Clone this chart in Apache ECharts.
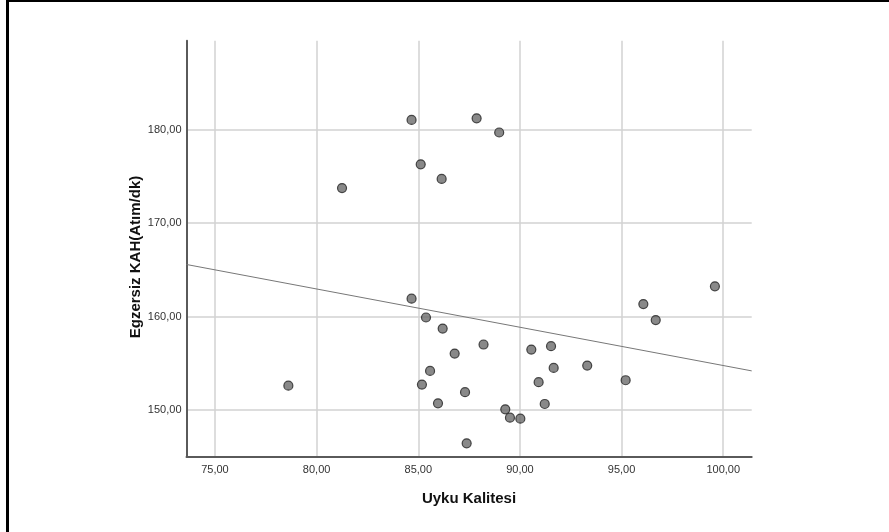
<!DOCTYPE html>
<html>
<head>
<meta charset="utf-8">
<script src="https://cdn.jsdelivr.net/npm/echarts@6/dist/echarts.min.js"></script>
<style>
html,body{margin:0;padding:0;background:#fff;}
#chart{width:889px;height:532px;}
</style>
</head>
<body>
<div id="chart"></div>
<script>
// Uyku Kalitesi (x) vs Egzersiz KAH (y)
const sleepQuality = [84.67, 87.87, 88.98, 85.12, 86.15, 81.25, 84.67,
  78.61, 85.38, 86.20, 88.21, 86.79, 90.56, 91.53, 91.66, 85.58, 85.18,
  90.92, 87.30, 85.97, 91.22, 89.28, 89.51, 90.02, 87.38,
  99.59, 96.07, 96.68, 95.20, 93.31];
const exerciseHR = [181.03, 181.20, 179.68, 176.28, 174.71, 173.74, 161.90,
  152.60, 159.89, 158.71, 157.00, 156.03, 156.46, 156.82, 154.50, 154.18, 152.71,
  152.97, 151.90, 150.71, 150.64, 150.07, 149.17, 149.07, 146.43,
  163.22, 161.33, 159.61, 153.18, 154.75];
// fit line end points
const fitX = [73.6, 101.4];
const fitY = [165.56, 154.18];
const xTicks = [75, 80, 85, 90, 95, 100];
const yTicks = [150, 160, 170, 180];

const points = sleepQuality.map((v, i) => [v, exerciseHR[i]]);
const fitLine = fitX.map((v, i) => [v, fitY[i]]);
const fmt = v => Number(v).toFixed(2).replace('.', ',');

const chart = echarts.init(document.getElementById('chart'));
chart.setOption({
  animation: false,
  backgroundColor: '#fff',
  grid: {left: 186.5, right: 137.3, top: 40.7, bottom: 75.3, containLabel: false},
  xAxis: {
    type: 'value', min: 73.6, max: 101.4,
    axisLine: {show: true, onZero: false, lineStyle: {color: '#5a5a5a', width: 2}},
    axisTick: {show: false, customValues: xTicks},
    axisLabel: {customValues: xTicks, formatter: fmt, color: '#333', fontSize: 11,
      fontFamily: 'Liberation Sans, Arial, sans-serif', margin: 8, showMinLabel: true, showMaxLabel: true},
    splitLine: {show: true, lineStyle: {color: '#d2d2d2', width: 1.5}}
  },
  yAxis: {
    type: 'value', min: 145, max: 189.5,
    axisLine: {show: true, onZero: false, lineStyle: {color: '#5a5a5a', width: 2}},
    axisTick: {show: false, customValues: yTicks},
    axisLabel: {customValues: yTicks, formatter: fmt, color: '#333', fontSize: 11,
      fontFamily: 'Liberation Sans, Arial, sans-serif', margin: 5},
    splitLine: {show: true, lineStyle: {color: '#d2d2d2', width: 1.5}}
  },
  graphic: [
    {type: 'rect', shape: {x: 6, y: 0, width: 3, height: 532}, style: {fill: '#000'}},
    {type: 'rect', shape: {x: 6, y: 0, width: 883, height: 2}, style: {fill: '#000'}},
    {type: 'text', x: 469, y: 499, style: {text: 'Uyku Kalitesi', font: 'bold 15px "Liberation Sans", Arial, sans-serif',
      fill: '#111', align: 'center', verticalAlign: 'middle'}},
    {type: 'text', x: 136, y: 257, rotation: Math.PI / 2, style: {text: 'Egzersiz KAH(Atım/dk)',
      font: 'bold 15px "Liberation Sans", Arial, sans-serif', fill: '#111', align: 'center', verticalAlign: 'middle'}}
  ],
  series: [
    {type: 'line', data: fitLine, symbol: 'none', silent: true,
      lineStyle: {color: '#777', width: 1}, z: 2},
    {type: 'scatter', data: points, symbol: 'circle', symbolSize: 9,
      itemStyle: {color: '#6c6c6c', borderColor: '#222', borderWidth: 1.2}, z: 3}
  ]
});
</script>
</body>
</html>
